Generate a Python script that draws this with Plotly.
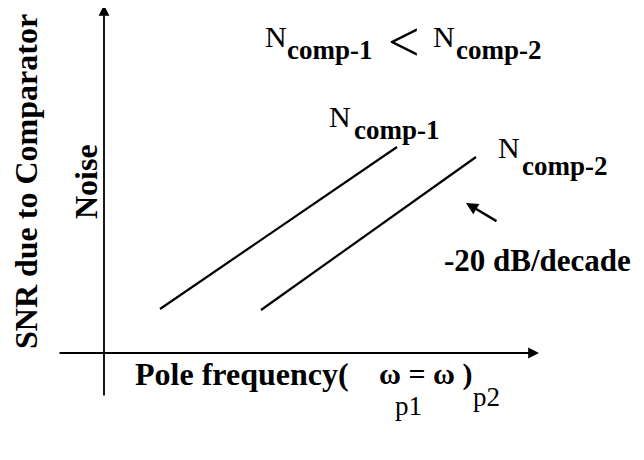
import plotly.graph_objects as go

# ---- data (schematic units: 1 unit = 10 px, origin at the axes crossing) ----
freq_comp1 = [5.6, 29.3]
noise_comp1 = [4.4, 20.6]
freq_comp2 = [15.7, 37.2]
noise_comp2 = [4.3, 19.6]

WIN_W, WIN_H = 644, 460
BODY = 8                      # default page margin around the plot div
W, H = WIN_W - BODY, WIN_H - BODY
X0, Y0 = 104, 353             # window-pixel position of the axes crossing


def px(x, y):
    """window pixel -> data coords"""
    return (x - X0) / 10.0, (Y0 - y) / 10.0


SERIF = "Liberation Serif"
BLACK = "black"

fig = go.Figure()
fig.add_trace(go.Scatter(x=freq_comp1, y=noise_comp1, mode="lines",
                         line=dict(color=BLACK, width=2.2), showlegend=False, hoverinfo="skip"))
fig.add_trace(go.Scatter(x=freq_comp2, y=noise_comp2, mode="lines",
                         line=dict(color=BLACK, width=2.2), showlegend=False, hoverinfo="skip"))

ann = []


def arrow(head, tail, width=1.8, size=1.0, hd=2):
    hx, hy = px(*head)
    tx, ty = px(*tail)
    ann.append(dict(x=hx, y=hy, ax=tx, ay=ty, xref="x", yref="y", axref="x", ayref="y",
                    text="", showarrow=True, arrowhead=hd, arrowsize=size,
                    arrowwidth=width, arrowcolor=BLACK, standoff=0, startstandoff=0))


def text(s, x, y, size, bold=True, xanchor="center", yanchor="middle", angle=0):
    dx, dy = px(x, y)
    ann.append(dict(x=dx, y=dy, xref="x", yref="y", text=(f"<b>{s}</b>" if bold else s),
                    showarrow=False, xanchor=xanchor, yanchor=yanchor, textangle=angle,
                    font=dict(family=SERIF, size=size, color=BLACK)))


# axes
arrow((104, 5), (104, 397), width=1.8, size=1.2)
arrow((539, 353), (58, 353), width=1.8, size=1.2)
# slope pointer
arrow((466, 203), (498, 222), width=2.4, size=1.0)

# axis titles
text("SNR due to Comparator", 26, 182, 32, angle=-90)
text("Noise", 86, 182, 32, angle=-90)
text("Pole frequency(", 133, 374, 32, xanchor="left")
text("ω = ω )", 377, 374, 30, xanchor="left")
text("p1", 408, 406, 27, bold=False)
text("p2", 486, 397, 27, bold=False)

# top relation
text("N", 276, 36, 30, bold=False)
text("comp-1", 285, 50, 27, xanchor="left")
text("&lt;", 404, 42, 56, bold=False)
text("N", 444, 36, 30, bold=False)
text("comp-2", 454, 50, 27, xanchor="left")

# line labels
text("N", 340, 116, 30, bold=False)
text("comp-1", 352, 130, 27, xanchor="left")
text("N", 509, 147, 30, bold=False)
text("comp-2", 520, 166, 27, xanchor="left")

text("-20 dB/decade", 442, 260, 31, xanchor="left")

xr = [px(BODY, 0)[0], px(WIN_W, 0)[0]]
yr = [px(0, WIN_H)[1], px(0, BODY)[1]]

fig.update_layout(
    width=W, height=H, margin=dict(l=0, r=0, t=0, b=0),
    paper_bgcolor="white", plot_bgcolor="white",
    xaxis=dict(range=xr, visible=False, fixedrange=True),
    yaxis=dict(range=yr, visible=False, fixedrange=True),
    annotations=ann, showlegend=False,
)

fig.write_html("out.html")
